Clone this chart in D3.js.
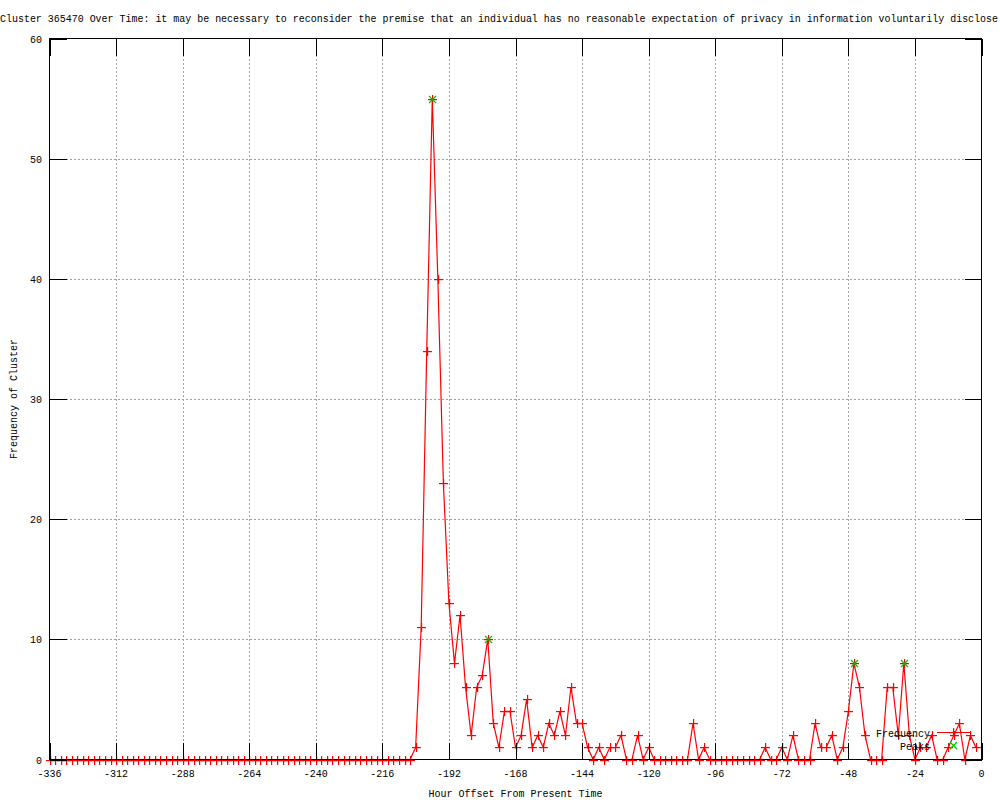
<!DOCTYPE html>
<html>
<head>
<meta charset="utf-8">
<script src="https://cdn.jsdelivr.net/npm/d3@7"></script>
<style>
  body { margin: 0; background: #fff; }
  text { font-family: "Liberation Mono", "DejaVu Sans Mono", monospace; font-size: 10px; fill: #000; }
</style>
</head>
<body>
<div id="chart"></div>
<script>
var title = "Cluster 365470 Over Time: it may be necessary to reconsider the premise that an individual has no reasonable expectation of privacy in information voluntarily disclose";

// hours -336 .. -2, every 2 hours
var hours = d3.range(-336, 0, 2);

// frequency: zeros until -206, then the burst and the tail
var freqTail = [
  1, 11, 34, 55, 40, 23, 13, 8, 12, 6, 2, 6, 7, 10, 3, 1, 4, 4, 1, 2,
  5, 1, 2, 1, 3, 2, 4, 2, 6, 3, 3, 1, 0, 1, 0, 1, 1, 2, 0, 0,
  2, 0, 1, 0, 0, 0, 0, 0, 0, 0, 3, 0, 1, 0, 0, 0, 0, 0, 0, 0,
  0, 0, 0, 1, 0, 0, 1, 0, 2, 0, 0, 0, 3, 1, 1, 2, 0, 1, 4, 8,
  6, 2, 0, 0, 0, 6, 6, 2, 8, 2, 0, 1, 1, 2, 0, 0, 1, 2, 3, 0,
  2, 1
];
var freq = d3.range(hours.length - freqTail.length).map(function() { return 0; }).concat(freqTail);

var peakHours = [-198, -178, -46, -28];
var peakValues = [55, 10, 8, 8];

var xTicks = d3.range(-336, 1, 24);
var yTicks = d3.range(0, 61, 10);

var width = 1000, height = 800;
var plotLeft = 49.5, plotRight = 981.5, plotTop = 38.5, plotBottom = 759.5;
var tickLen = 17;

var svg = d3.select("#chart").append("svg")
  .attr("width", width)
  .attr("height", height);

var x = d3.scaleLinear().domain([-336, 0]).range([plotLeft, plotRight]);
var y = d3.scaleLinear().domain([0, 60]).range([plotBottom, plotTop]);

// title (runs to the right edge, as in the original)
svg.append("text")
  .attr("x", 0)
  .attr("y", 22)
  .attr("textLength", 998)
  .attr("lengthAdjust", "spacingAndGlyphs")
  .text(title);

// grid
var grid = svg.append("g")
  .attr("stroke", "#a0a0a0")
  .attr("stroke-dasharray", "2,2")
  .attr("shape-rendering", "crispEdges");
grid.selectAll(".gx").data(xTicks.slice(1, -1)).enter().append("line")
  .attr("x1", function(d) { return Math.round(x(d)) + 0.5; })
  .attr("x2", function(d) { return Math.round(x(d)) + 0.5; })
  .attr("y1", plotTop).attr("y2", plotBottom);
grid.selectAll(".gy").data(yTicks.slice(1, -1)).enter().append("line")
  .attr("y1", function(d) { return Math.round(y(d)) + 0.5; })
  .attr("y2", function(d) { return Math.round(y(d)) + 0.5; })
  .attr("x1", plotLeft).attr("x2", plotRight);

// frequency line
var line = d3.line()
  .x(function(d, i) { return x(hours[i]); })
  .y(function(d) { return y(d); });

svg.append("path")
  .datum(freq)
  .attr("fill", "none")
  .attr("stroke", "#ff0000")
  .attr("stroke-width", 1.2)
  .attr("d", line);

// "+" point drawn as two filled bars
function plus(g, cx, cy, s, col) {
  g.append("rect").attr("x", cx - s).attr("y", cy).attr("width", 2 * s + 1).attr("height", 1.2).attr("fill", col);
  g.append("rect").attr("x", cx).attr("y", cy - s).attr("width", 1.2).attr("height", 2 * s + 1).attr("fill", col);
}
function cross(g, cx, cy, s, col) {
  g.append("path")
    .attr("d", "M" + (cx - s) + "," + (cy - s) + "L" + (cx + s) + "," + (cy + s) +
               "M" + (cx - s) + "," + (cy + s) + "L" + (cx + s) + "," + (cy - s))
    .attr("stroke", col)
    .attr("stroke-width", 1.2)
    .attr("fill", "none");
}

var pts = svg.append("g");
freq.forEach(function(d, i) {
  plus(pts, Math.round(x(hours[i])), Math.round(y(d)), 4, "#ff0000");
});

var peaks = svg.append("g");
peakHours.forEach(function(h, i) {
  cross(peaks, Math.round(x(h)) + 0.5, Math.round(y(peakValues[i])) + 0.5, 3.5, "#00c000");
});

// border and ticks
var axes = svg.append("g")
  .attr("stroke", "#000")
  .attr("shape-rendering", "crispEdges");
axes.append("rect")
  .attr("x", plotLeft).attr("y", plotTop)
  .attr("width", plotRight - plotLeft).attr("height", plotBottom - plotTop)
  .attr("fill", "none");
xTicks.forEach(function(t) {
  var px = Math.round(x(t)) + 0.5;
  axes.append("line").attr("x1", px).attr("x2", px).attr("y1", plotBottom).attr("y2", plotBottom - tickLen);
  axes.append("line").attr("x1", px).attr("x2", px).attr("y1", plotTop).attr("y2", plotTop + tickLen);
});
yTicks.forEach(function(t) {
  var py = Math.round(y(t)) + 0.5;
  axes.append("line").attr("y1", py).attr("y2", py).attr("x1", plotLeft).attr("x2", plotLeft + tickLen);
  axes.append("line").attr("y1", py).attr("y2", py).attr("x1", plotRight).attr("x2", plotRight - tickLen);
});

// tick labels
svg.selectAll(".xl").data(xTicks).enter().append("text")
  .attr("x", function(d) { return x(d); })
  .attr("y", 777)
  .attr("text-anchor", "middle")
  .text(function(d) { return d; });
svg.selectAll(".yl").data(yTicks).enter().append("text")
  .attr("x", 42)
  .attr("y", function(d) { return y(d) + 4; })
  .attr("text-anchor", "end")
  .text(function(d) { return d; });

// axis titles
svg.append("text")
  .attr("x", (plotLeft + plotRight) / 2)
  .attr("y", 797)
  .attr("text-anchor", "middle")
  .text("Hour Offset From Present Time");
svg.append("text")
  .attr("transform", "translate(17," + ((plotTop + plotBottom) / 2) + ") rotate(-90)")
  .attr("text-anchor", "middle")
  .text("Frequency of Cluster");

// legend
var legend = svg.append("g");
legend.append("text").attr("x", 930).attr("y", 737).attr("text-anchor", "end").text("Frequency");
legend.append("line").attr("x1", 937).attr("x2", 970).attr("y1", 732.5).attr("y2", 732.5)
  .attr("stroke", "#ff0000").attr("shape-rendering", "crispEdges");
plus(legend, 953, 732, 4, "#ff0000");
legend.append("text").attr("x", 930).attr("y", 750).attr("text-anchor", "end").text("Peaks");
cross(legend, 953.5, 745.5, 3.5, "#00c000");
</script>
</body>
</html>
